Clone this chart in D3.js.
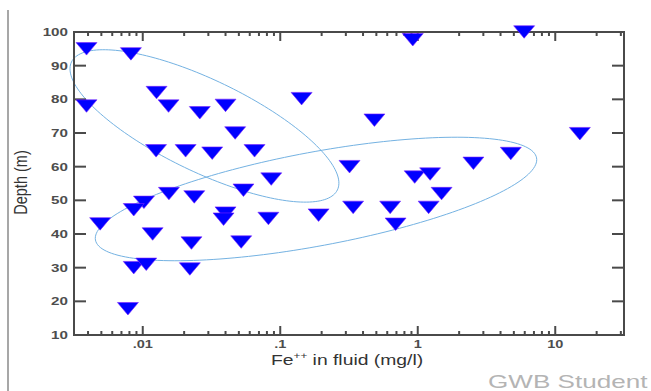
<!DOCTYPE html>
<html>
<head>
<meta charset="utf-8">
<script src="https://cdn.jsdelivr.net/npm/d3@7"></script>
<style>
  html, body { margin: 0; padding: 0; background: #fff; }
  svg { display: block; }
  text { font-family: "Liberation Sans", Arial, sans-serif; }
</style>
</head>
<body>
<svg id="chart" width="651" height="391"></svg>
<script>
// Fe++ concentration in fluid (mg/l) and sample depth (m)
const feValues = [
  0.0039, 0.0082, 0.0126, 0.0039, 0.0154, 0.026, 0.0125, 0.0205, 0.0155, 0.0237,
  0.0102, 0.0086, 0.0049, 0.0118, 0.0226, 0.0086, 0.0106, 0.022, 0.0078, 0.040,
  0.143, 0.047, 0.032, 0.065, 0.086, 0.054, 0.040, 0.0387, 0.082, 0.19,
  0.052, 0.92, 0.484, 0.319, 0.95, 1.23, 1.49, 0.339, 0.63, 1.2,
  0.69, 2.54, 5.94, 15.1, 4.75
];
const depthValues = [
  95, 93.5, 82, 78, 78, 76, 64.7, 64.7, 52, 51,
  49.4, 47.2, 43, 40, 37.3, 30, 31, 29.6, 17.8, 78.2,
  80.2, 70, 64, 64.7, 56.3, 53, 46.2, 44.4, 44.6, 45.6,
  37.6, 97.7, 73.8, 60, 56.9, 57.8, 52, 47.9, 47.9, 47.9,
  42.9, 61, 100, 69.8, 63.9
];

// Axis settings
const depthTicks = [10, 20, 30, 40, 50, 60, 70, 80, 90, 100];
const feLabels = [".01", ".1", "1", "10"];

// Grouping ellipses: centre (mg/l, m) and two conjugate semi-axes,
// each given as [decades of Fe++, metres of depth]
const ellipseCenters = [[0.0281, 72.1], [0.182, 50.4]];
const ellipseAxisU = [[0.967, -19.0], [1.604, 12.2]];
const ellipseAxisV = [[-0.145, -12.3], [0.0625, -13.7]];

const svg = d3.select("#chart");
const W = 651, H = 391;
const plotL = 74, plotR = 624, plotT = 32, plotB = 335;

const x = d3.scaleLog().domain([Math.pow(10, -2.5), Math.pow(10, 1.5)]).range([plotL, plotR]);
const y = d3.scaleLinear().domain([10, 100]).range([plotB, plotT]);

const axisColor = "#4a4a4a";
const labelColor = "#4d4d4d";
const stretch = 1.38;

// thin page rule on the left
svg.append("line")
  .attr("x1", 8).attr("x2", 8).attr("y1", 10).attr("y2", H)
  .attr("stroke", "#8a8a8a").attr("stroke-width", 1.5);

// ellipses, traced in log(Fe)/depth space
const line = d3.line().curve(d3.curveLinearClosed);
ellipseCenters.forEach((c, i) => {
  const lc = Math.log10(c[0]);
  const u = ellipseAxisU[i], v = ellipseAxisV[i];
  const pts = d3.range(0, 360, 2).map(deg => {
    const t = deg * Math.PI / 180;
    const L = lc + u[0] * Math.cos(t) + v[0] * Math.sin(t);
    const D = c[1] + u[1] * Math.cos(t) + v[1] * Math.sin(t);
    return [x(Math.pow(10, L)), y(D)];
  });
  svg.append("path")
    .attr("d", line(pts))
    .attr("fill", "none")
    .attr("stroke", "#74b2e2")
    .attr("stroke-width", 1);
});

// frame
const g = svg.append("g");
g.append("rect")
  .attr("x", plotL).attr("y", plotT)
  .attr("width", plotR - plotL).attr("height", plotB - plotT)
  .attr("fill", "none").attr("stroke", axisColor).attr("stroke-width", 2);

// x ticks (log, major at decades), drawn inward on bottom and top
const xt = x.ticks();
xt.forEach(v => {
  const px = x(v);
  if (px < plotL + 0.5 || px > plotR - 0.5) return;
  const major = Math.abs(Math.log10(v) - Math.round(Math.log10(v))) < 1e-9;
  const len = major ? 9 : 4;
  g.append("line").attr("x1", px).attr("x2", px).attr("y1", plotB).attr("y2", plotB - len)
    .attr("stroke", axisColor).attr("stroke-width", 2);
  g.append("line").attr("x1", px).attr("x2", px).attr("y1", plotT).attr("y2", plotT + len)
    .attr("stroke", axisColor).attr("stroke-width", 2);
});

// y ticks on left and right
depthTicks.forEach(v => {
  const py = y(v);
  if (v > 10 && v < 100) {
    g.append("line").attr("x1", plotL).attr("x2", plotL + 12).attr("y1", py).attr("y2", py)
      .attr("stroke", axisColor).attr("stroke-width", 2);
    g.append("line").attr("x1", plotR - 12).attr("x2", plotR).attr("y1", py).attr("y2", py)
      .attr("stroke", axisColor).attr("stroke-width", 2);
  }
  svg.append("text")
    .attr("transform", `translate(68,${py + 4}) scale(${stretch},1)`)
    .attr("text-anchor", "end")
    .attr("font-size", 11)
    .attr("font-weight", "bold")
    .attr("fill", labelColor)
    .text(v);
});

// x tick labels
const decades = [0.01, 0.1, 1, 10];
decades.forEach((v, i) => {
  svg.append("text")
    .attr("transform", `translate(${x(v)},${348}) scale(${stretch},1)`)
    .attr("text-anchor", "middle")
    .attr("font-size", 10.5)
    .attr("font-weight", "bold")
    .attr("fill", labelColor)
    .text(feLabels[i]);
});

// axis titles
const xt1 = svg.append("text")
  .attr("transform", `translate(271,365) scale(${stretch},1)`)
  .attr("font-size", 14)
  .attr("fill", "#333");
xt1.append("tspan").text("Fe");
xt1.append("tspan").attr("font-size", 8.5).attr("dy", -6).text("++");
xt1.append("tspan").attr("dy", 6).text(" in fluid (mg/l)");

svg.append("text")
  .attr("transform", `translate(26.5,182.5) scale(1.24,1) rotate(-90)`)
  .attr("text-anchor", "middle")
  .attr("font-size", 14.5)
  .attr("fill", "#333")
  .text("Depth (m)");

// watermark
svg.append("text")
  .attr("transform", `translate(488,388) scale(1.41,1)`)
  .attr("font-size", 18.5)
  .attr("fill", "#b4b4b4")
  .text("GWB Student");

// sample markers: downward triangles
const tri = "M-10.5,-6.25L10.5,-6.25L0,6.25Z";
svg.append("g").selectAll("path")
  .data(feValues.map((f, i) => [f, depthValues[i]]))
  .join("path")
  .attr("d", tri)
  .attr("transform", d => `translate(${x(d[0])},${y(d[1])})`)
  .attr("fill", "#0000ff")
  .attr("stroke", "#7a20ff")
  .attr("stroke-width", 0.6)
  .attr("stroke-linejoin", "miter");
</script>
</body>
</html>
